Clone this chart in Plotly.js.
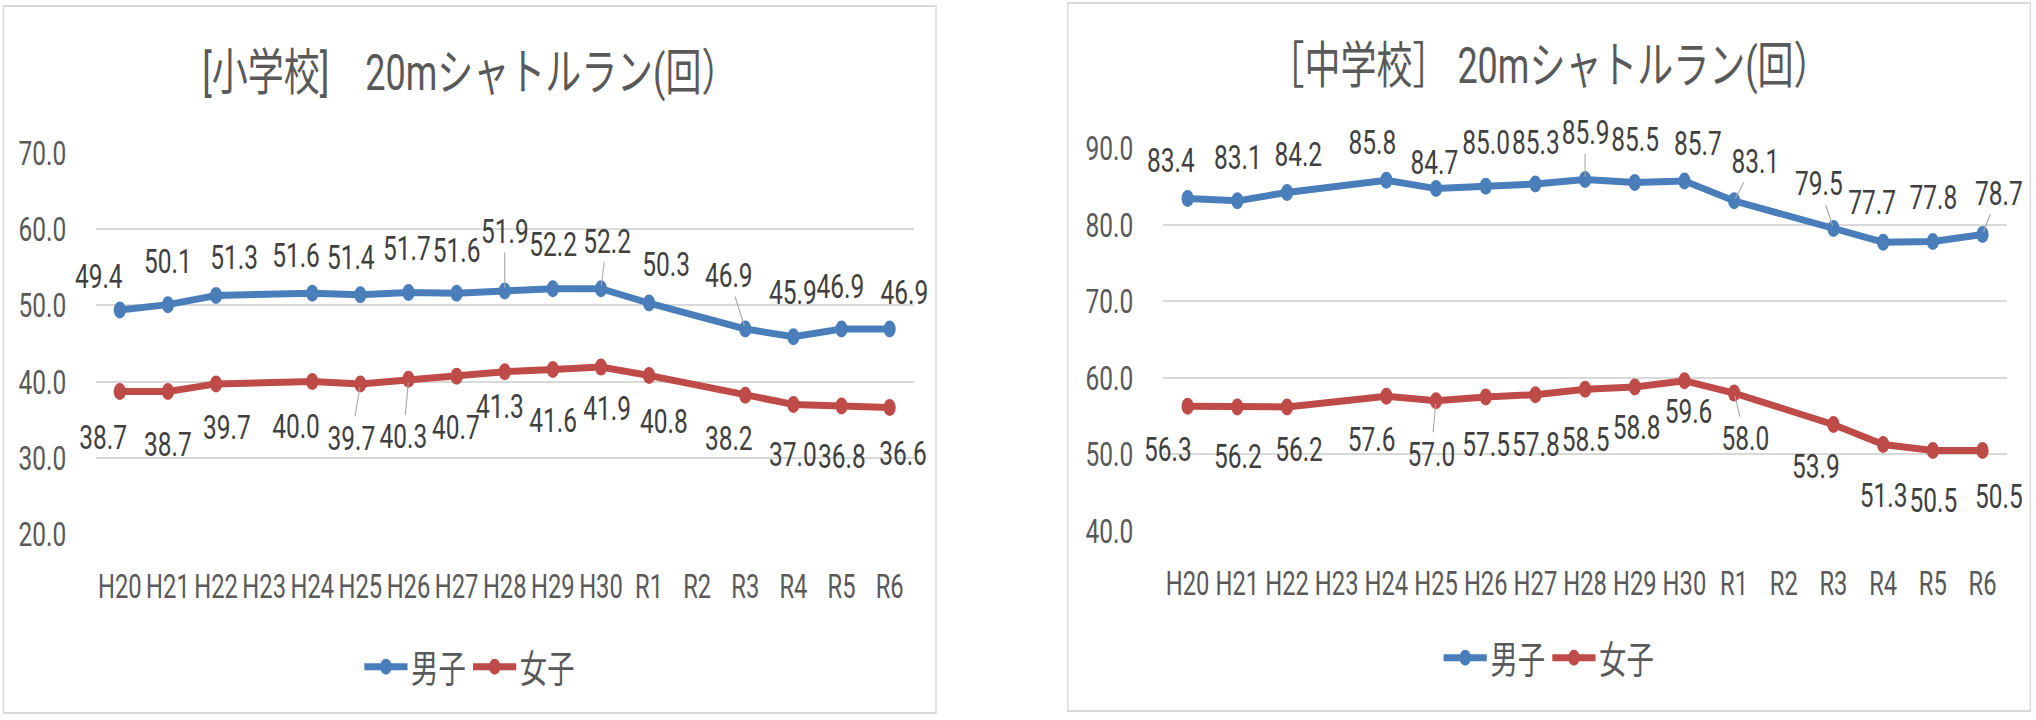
<!DOCTYPE html>
<html><head><meta charset="utf-8">
<title>20mシャトルラン(回)</title>
<script src="https://cdn.plot.ly/plotly-3.0.1.min.js"></script>
<style>
  html, body {
    margin: 0;
    padding: 0;
    background: #fff;
    overflow: hidden;
  }
  /* the reference is squeezed sideways, so draw wide and squeeze */
  #page {
    position: absolute;
    left: 0;
    top: 0;
    width: 2828px;
    height: 720px;
    transform: scaleX(0.72);
    transform-origin: 0 0;
  }
  .chart {
    position: absolute;
    outline: 2px solid #d9d9d9;
    outline-offset: -2px;
    background: #fff;
  }
  #elem { left: 4px; top: 5px; width: 1297px; height: 709px; }
  #junior { left: 1482px; top: 2px; width: 1339px; height: 710px; }
</style>
</head>
<body>
<div id="page">
  <div id="elem" class="chart"></div>
  <div id="junior" class="chart"></div>
</div>
<script>
const SX = 0.72;
const FONT = "Roboto, 'Noto Sans CJK JP', sans-serif";

const years = ['H20','H21','H22','H23','H24','H25','H26','H27','H28','H29','H30','R1','R2','R3','R4','R5','R6'];

// 小学校
const elemBoys  = [49.4, 50.1, 51.3, null, 51.6, 51.4, 51.7, 51.6, 51.9, 52.2, 52.2, 50.3, null, 46.9, 45.9, 46.9, 46.9];
const elemGirls = [38.7, 38.7, 39.7, null, 40.0, 39.7, 40.3, 40.7, 41.3, 41.6, 41.9, 40.8, null, 38.2, 37.0, 36.8, 36.6];

// 中学校
const juniorBoys  = [83.4, 83.1, 84.2, null, 85.8, 84.7, 85.0, 85.3, 85.9, 85.5, 85.7, 83.1, null, 79.5, 77.7, 77.8, 78.7];
const juniorGirls = [56.3, 56.2, 56.2, null, 57.6, 57.0, 57.5, 57.8, 58.5, 58.8, 59.6, 58.0, null, 53.9, 51.3, 50.5, 50.5];

// label offsets from the point (screen px), as placed in the original
const elemBoysOff = [[-21,-34],[0,-44],[18,-38],null,[-16,-38],[-10,-38],[-2,-44],[0,-43],[0,-60],[0,-45],[6,-48],[17,-39],null,[-17,-54],[-1,-45],[-1,-43],[15,-37]];
const elemGirlsOff = [[-17,45],[0,52],[11,43],null,[-16,44],[-9,54],[-5,57],[-1,51],[-5,34],[0,51],[6,41],[15,45],null,[-17,43],[-1,50],[0,50],[13,45]];
const juniorBoysOff = [[-17,-39],[0,-44],[11,-38],null,[-14,-38],[-2,-27],[0,-44],[0,-42],[0,-47],[0,-43],[13,-38],[21,-40],null,[-15,-45],[-11,-40],[0,-44],[16,-42]];
const juniorGirlsOff = [[-20,43],[0,49],[12,42],null,[-15,43],[-5,53],[0,47],[0,49],[0,50],[2,40],[4,30],[11,45],null,[-18,41],[0,51],[0,49],[16,45]];

// labels that have a leader line
const elemBoysLead = [8, 10, 13];
const elemGirlsLead = [5, 6];
const juniorBoysLead = [8, 11, 13, 16];
const juniorGirlsLead = [5, 11];

const BLUE = '#4a7ebb';
const RED = '#be4b48';

function makeLabels(vals, off, leaders) {
  const out = [];
  vals.forEach((v, i) => {
    if (v === null) return;
    out.push({
      x: years[i], y: v, text: v.toFixed(1),
      showarrow: true, ax: off[i][0] / SX, ay: off[i][1],
      arrowhead: 0, arrowwidth: 1.5, standoff: 3,
      arrowcolor: leaders.includes(i) ? '#a6a6a6' : 'rgba(0,0,0,0)',
      font: { family: FONT, size: 34, color: '#404040' }
    });
  });
  return out;
}

function series(name, vals, color) {
  return {
    x: years, y: vals, name: name,
    type: 'scatter', mode: 'lines+markers', connectgaps: true,
    line: { color: color, width: 7 },
    marker: { color: color, size: 17 },
    hoverinfo: 'skip'
  };
}

function drawChart(id, opt) {
  const traces = [series('男子', opt.boys, BLUE), series('女子', opt.girls, RED)];
  const layout = {
    width: opt.w, height: opt.h,
    margin: opt.margin,
    paper_bgcolor: 'rgba(0,0,0,0)',
    plot_bgcolor: 'rgba(0,0,0,0)',
    font: { family: FONT, color: '#595959' },
    title: {
      text: opt.title,
      font: { family: FONT, size: 50, color: '#595959' },
      x: 0.5, xref: 'container', xanchor: 'center',
      y: 1 - opt.titleY / opt.h, yref: 'container', yanchor: 'middle'
    },
    showlegend: true,
    legend: {
      orientation: 'h',
      x: 0.5, xref: 'container', xanchor: 'center',
      y: 1 - opt.legendY / opt.h, yref: 'container', yanchor: 'middle',
      font: { family: FONT, size: 38, color: '#595959' },
      itemwidth: 60
    },
    xaxis: {
      type: 'category', categoryorder: 'array', categoryarray: years,
      range: [-0.5, 16.5],
      showgrid: false, showline: false, zeroline: false, ticks: '',
      tickfont: { family: FONT, size: 33, color: '#595959' },
      ticklabelstandoff: 30
    },
    yaxis: {
      range: opt.yRange, dtick: 10, tick0: 0, tickformat: '.1f',
      showgrid: true, gridcolor: '#d9d9d9', gridwidth: 2,
      showline: false, zeroline: false, ticks: '',
      tickfont: { family: FONT, size: 34, color: '#595959' },
      ticklabelstandoff: 40
    },
    annotations: makeLabels(opt.boys, opt.boysOff, opt.boysLead)
      .concat(makeLabels(opt.girls, opt.girlsOff, opt.girlsLead))
  };
  Plotly.newPlot(id, traces, layout, { staticPlot: true, displayModeBar: false });
}

drawChart('elem', {
  w: 1297, h: 709,
  margin: { l: 129, r: 32, t: 148, b: 180, pad: 0 },
  title: '[小学校]　20mシャトルラン(回）',
  titleY: 68, legendY: 662,
  yRange: [20, 70],
  boys: elemBoys, girls: elemGirls,
  boysOff: elemBoysOff, girlsOff: elemGirlsOff,
  boysLead: elemBoysLead, girlsLead: elemGirlsLead
});

drawChart('junior', {
  w: 1339, h: 710,
  margin: { l: 133, r: 33, t: 146, b: 181, pad: 0 },
  title: '［中学校］ 20mシャトルラン(回）',
  titleY: 64, legendY: 656,
  yRange: [40, 90],
  boys: juniorBoys, girls: juniorGirls,
  boysOff: juniorBoysOff, girlsOff: juniorGirlsOff,
  boysLead: juniorBoysLead, girlsLead: juniorGirlsLead
});
</script>
</body></html>
